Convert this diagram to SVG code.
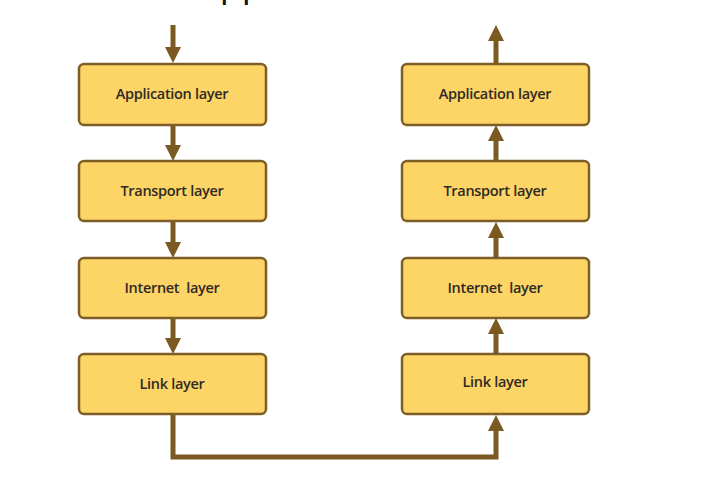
<svg xmlns="http://www.w3.org/2000/svg" width="719" height="477" viewBox="0 0 719 477">
<defs>
<style>
.box{fill:#FDD466;stroke:#7E5E26;stroke-width:2.5}
.lbl{font-family:"Open Sans","Liberation Sans",sans-serif;font-weight:600;font-size:14.5px;fill:#2E2A24;text-anchor:middle;letter-spacing:-0.3px;white-space:pre}
.conn{fill:none;stroke:#7B5A22;stroke-width:5}
.head{fill:#7B5A22}
</style>
<marker id="ah" markerUnits="userSpaceOnUse" markerWidth="18" markerHeight="17" refX="0" refY="8.5" orient="auto" viewBox="0 0 17 18">
<path class="head" d="M0,0 L17,9 L0,18 Z" transform="scale(1,0.944)"/>
</marker>
</defs>
<rect width="719" height="477" fill="#FFFFFF"/>
<text x="197" y="-4.5" style="font-family:'Open Sans','Liberation Sans',sans-serif;font-size:36px;fill:#111">Application</text>
<g id="connectors">
<path class="conn" d="M173,25 V47" marker-end="url(#ah)"/>
<path class="conn" d="M173,126 V145" marker-end="url(#ah)"/>
<path class="conn" d="M173,222 V242" marker-end="url(#ah)"/>
<path class="conn" d="M173,319 V338" marker-end="url(#ah)"/>
<path class="conn" d="M173,415 V457 H496 V431" marker-end="url(#ah)"/>
<path class="conn" d="M496,353 V334" marker-end="url(#ah)"/>
<path class="conn" d="M496,257 V238" marker-end="url(#ah)"/>
<path class="conn" d="M496,160 V141" marker-end="url(#ah)"/>
<path class="conn" d="M496,63 V41" marker-end="url(#ah)"/>
</g>
<g id="send-app"><rect class="box" x="79" y="64" width="187" height="61" rx="5"/><text class="lbl" x="172" y="99">Application layer</text></g>
<g id="send-transport"><rect class="box" x="79" y="161" width="187" height="60" rx="5"/><text class="lbl" x="172" y="196">Transport layer</text></g>
<g id="send-internet"><rect class="box" x="79" y="258" width="187" height="60" rx="5"/><text class="lbl" x="172" y="293">Internet  layer</text></g>
<g id="send-link"><rect class="box" x="79" y="354" width="187" height="60" rx="5"/><text class="lbl" x="172" y="389">Link layer</text></g>
<g id="recv-app"><rect class="box" x="402" y="64" width="187" height="61" rx="5"/><text class="lbl" x="495" y="99">Application layer</text></g>
<g id="recv-transport"><rect class="box" x="402" y="161" width="187" height="60" rx="5"/><text class="lbl" x="495" y="196">Transport layer</text></g>
<g id="recv-internet"><rect class="box" x="402" y="258" width="187" height="60" rx="5"/><text class="lbl" x="495" y="293">Internet  layer</text></g>
<g id="recv-link"><rect class="box" x="402" y="354" width="187" height="60" rx="5"/><text class="lbl" x="495" y="387">Link layer</text></g>
</svg>
